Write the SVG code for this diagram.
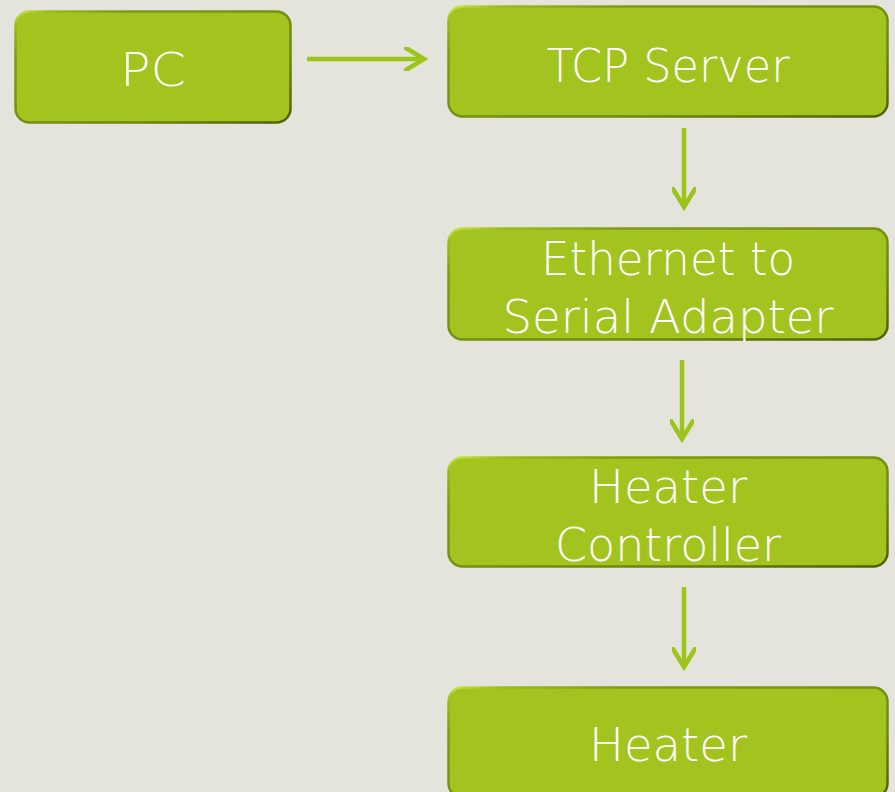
<svg xmlns="http://www.w3.org/2000/svg" width="895" height="792" viewBox="0 0 895 792">
  <defs>
    <!-- bevelled rim: bright at the upper-left corner, olive elsewhere, darkest lower-right -->
    <linearGradient id="rim" x1="0" y1="0" x2="1" y2="1">
      <stop offset="0" stop-color="#cde64a"/>
      <stop offset="0.06" stop-color="#9cbc1c"/>
      <stop offset="0.2" stop-color="#7f9a12"/>
      <stop offset="0.7" stop-color="#6f880e"/>
      <stop offset="1" stop-color="#4e6008"/>
    </linearGradient>
    <marker id="head" viewBox="0 0 24 24" refX="20" refY="12" markerWidth="24" markerHeight="24" markerUnits="userSpaceOnUse" orient="auto">
      <path d="M2 1 L20 12 L2 23" fill="none" stroke="#9dc41a" stroke-width="4.5" stroke-linecap="round" stroke-linejoin="miter"/>
    </marker>
    <style>
      .box { fill: #a3c41e; stroke: url(#rim); stroke-width: 2.5; }
      .label { fill: #ffffff; font-family: "DejaVu Sans", "Liberation Sans", sans-serif; font-weight: 200; font-size: 46px; text-anchor: middle; }
      .link { fill: none; stroke: #9dc41a; stroke-width: 4.5; marker-end: url(#head); }
    </style>
  </defs>
  <rect width="895" height="792" fill="#e4e4dd"/>

  <g id="connectors">
    <line class="link" x1="307" y1="59" x2="424" y2="59"/>
    <line class="link" x1="684" y1="128" x2="684" y2="207"/>
    <line class="link" x1="682" y1="360" x2="682" y2="439"/>
    <line class="link" x1="684" y1="587" x2="684" y2="667"/>
  </g>

  <g id="pc">
    <rect class="box" x="15.5" y="11.5" width="275" height="111" rx="14"/>
    <text class="label" x="153" y="86" textLength="66" lengthAdjust="spacingAndGlyphs">PC</text>
  </g>

  <g id="tcp-server">
    <rect class="box" x="448.5" y="6.5" width="439" height="110" rx="14"/>
    <text class="label" x="668" y="82" textLength="243" lengthAdjust="spacingAndGlyphs">TCP Server</text>
  </g>

  <g id="adapter">
    <rect class="box" x="448.5" y="228.5" width="439" height="111" rx="14"/>
    <text class="label" x="668" y="275" textLength="254" lengthAdjust="spacingAndGlyphs">Ethernet to</text>
    <text class="label" x="668" y="333" textLength="331" lengthAdjust="spacingAndGlyphs">Serial Adapter</text>
  </g>

  <g id="heater-controller">
    <rect class="box" x="448.5" y="457.5" width="439" height="109" rx="14"/>
    <text class="label" x="668" y="503" textLength="158" lengthAdjust="spacingAndGlyphs">Heater</text>
    <text class="label" x="668" y="561" textLength="226" lengthAdjust="spacingAndGlyphs">Controller</text>
  </g>

  <g id="heater">
    <rect class="box" x="448.5" y="687.5" width="439" height="110" rx="14"/>
    <text class="label" x="668" y="761" textLength="158" lengthAdjust="spacingAndGlyphs">Heater</text>
  </g>
</svg>
